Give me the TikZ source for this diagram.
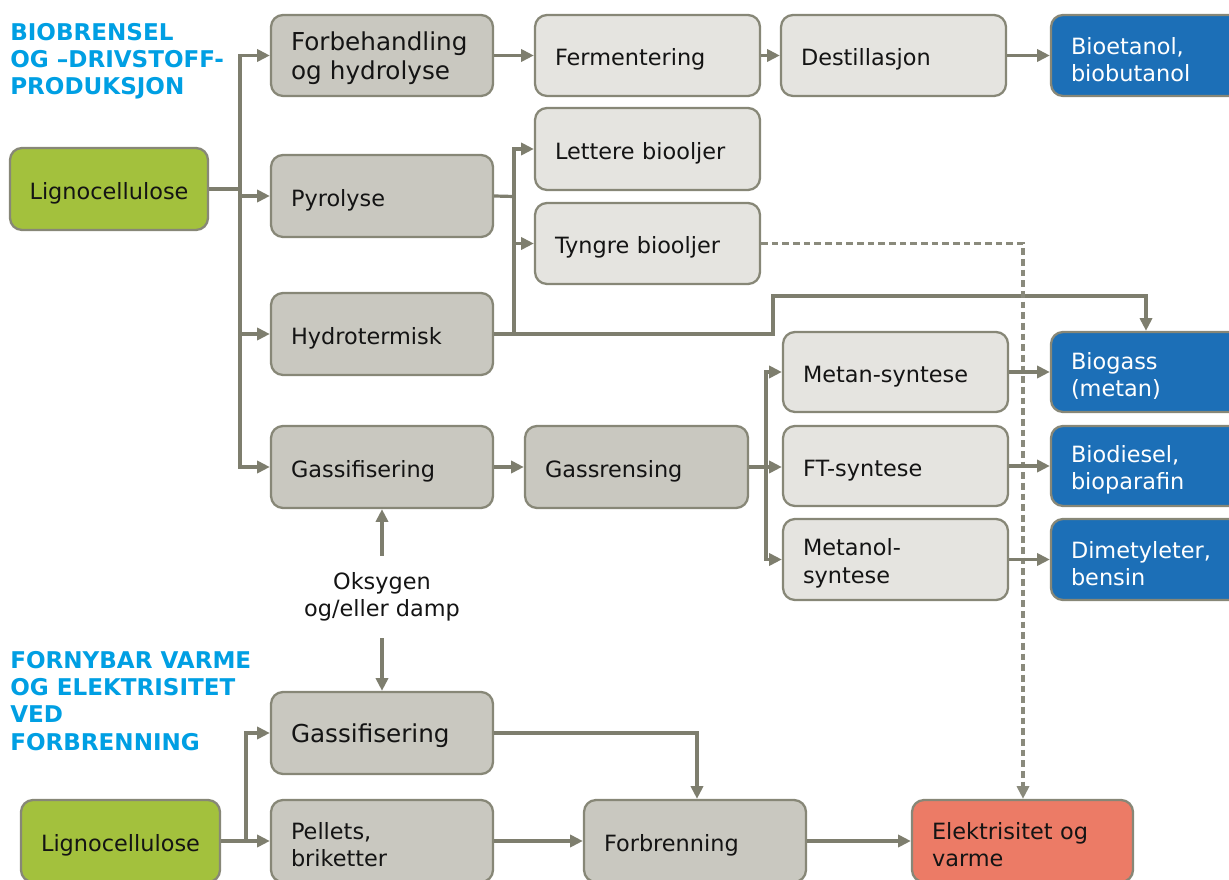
\documentclass[tikz,border=0pt]{standalone}
\usepackage{fontspec}
\setmainfont{DejaVu Sans}
\usetikzlibrary{arrows.meta}

\definecolor{lineC}{HTML}{7E7E6E}
\definecolor{edgeC}{HTML}{878777}
\definecolor{dashC}{HTML}{8A8A7C}
\definecolor{darkG}{HTML}{C9C8C0}
\definecolor{lightG}{HTML}{E5E4E0}
\definecolor{greenF}{HTML}{A3C13D}
\definecolor{blueF}{HTML}{1C6FB7}
\definecolor{redF}{HTML}{EC7B66}
\definecolor{headC}{HTML}{009FE3}
\definecolor{textC}{HTML}{141414}

\newcommand\txtbody{\fontsize{16.8}{20.3}\selectfont}
\newcommand\txtlarge{\fontsize{18.5}{21.8}\selectfont}
\newcommand\txthead{\fontsize{17.3}{20.3}\selectfont\bfseries}
\def\u{0.75pt}

\tikzset{
  box/.style={draw=edgeC, line width=1.7pt, rounded corners=9pt, inner sep=0pt,
              font=\txtbody, text=textC,
              execute at begin node={\rule{0pt}{18.5pt}}},
  lbox/.style 2 args={box, minimum width={#1*\u}, minimum height={#2*\u},
              text width={(#1-40)*\u}, align=left},
  cbox/.style 2 args={box, minimum width={#1*\u}, minimum height={#2*\u}, align=center},
  dark/.style={fill=darkG},
  light/.style={fill=lightG},
  green/.style={fill=greenF},
  blue/.style={fill=blueF, text=white},
  red/.style={fill=redF},
  head/.style={font=\txthead, text=headC, align=left, inner sep=0pt},
  conn/.style={draw=lineC, line width=2.4pt},
  arr/.style={conn, -{Triangle[length=9.5pt,width=9pt]}},
  darr/.style={draw=dashC, line width=2.4pt, dash pattern=on 5pt off 3pt,
               -{Triangle[length=9.5pt,width=9pt]}},
}

\begin{document}
\begin{tikzpicture}[x=0.75pt,y=-0.75pt]
\useasboundingbox (0,0) rectangle (1229,880);

% section headings (anchored at the baseline of their last line)
\node[head, anchor=base west] (h1) at (10,94.3) {BIOBRENSEL\\OG –DRIVSTOFF-\\PRODUKSJON};
\node[head, anchor=base west] (h2) at (10,750) {FORNYBAR VARME\\OG ELEKTRISITET\\VED\\FORBRENNING};

% fuel production chain
\node[cbox={198}{82}, green] (ligA) at (109,189) {Lignocellulose};
\node[lbox={222}{81}, dark, font=\txtlarge] (forb) at (382,55.5) {Forbehandling\\og hydrolyse};
\node[lbox={225}{81}, light] (ferm) at (647.5,55.5) {Fermentering};
\node[lbox={225}{81}, light] (dest) at (893.5,55.5) {Destillasjon};
\node[lbox={222}{81}, blue] (bioet) at (1162,55.5) {Bioetanol,\\biobutanol};

\node[lbox={222}{82}, dark] (pyro) at (382,196) {Pyrolyse};
\node[lbox={225}{82}, light] (lett) at (647.5,149) {Lettere biooljer};
\node[lbox={225}{81}, light] (tyng) at (647.5,243.5) {Tyngre biooljer};
\node[lbox={222}{82}, dark] (hydro) at (382,334) {Hydrotermisk};

\node[lbox={225}{80}, light] (metan) at (895.5,372) {Metan-syntese};
\node[lbox={222}{80}, blue] (biogass) at (1162,372) {Biogass\\(metan)};
\node[lbox={222}{82}, dark] (gassA) at (382,467) {Gassifisering};
\node[lbox={223}{82}, dark] (rens) at (636.5,467) {Gassrensing};
\node[lbox={225}{80}, light] (ft) at (895.5,466) {FT-syntese};
\node[lbox={222}{80}, blue] (biod) at (1162,466) {Biodiesel,\\bioparafin};
\node[lbox={225}{81}, light] (metanol) at (895.5,559.5) {Metanol-\\syntese};
\node[lbox={222}{81}, blue] (dme) at (1162,559.5) {Dimetyleter,\\bensin};

\node[font=\txtbody, text=textC, align=center, inner sep=0pt, minimum height=82*\u] (oks) at (382,597) {Oksygen\\og/eller damp};

% heat and power chain
\node[lbox={222}{82}, dark, font=\txtlarge] (gassB) at (382,733) {Gassifisering};
\node[cbox={199}{82}, green] (ligB) at (120.5,841) {Lignocellulose};
\node[lbox={222}{82}, dark] (pellets) at (382,841) {Pellets,\\briketter};
\node[lbox={222}{82}, dark] (forbr) at (695,841) {Forbrenning};
\node[lbox={221}{82}, red] (el) at (1022.5,841) {Elektrisitet og\\varme};

% branch points
\coordinate (sA) at (240,189);
\coordinate (sP) at (514,196.5);
\coordinate (hA) at (773,334);
\coordinate (hB) at (773,296);
\coordinate (hC) at (1146,296);
\coordinate (dA) at (1023,243.5);
\coordinate (sR) at (766,467);
\coordinate (sB) at (246,841);
\coordinate (gf) at (697,733);

% connectors, fuel production
\draw[conn] (ligA.east) -- (sA);
\draw[arr] (sA) |- (forb.west);
\draw[arr] (sA) |- (pyro.west);
\draw[arr] (sA) |- (hydro.west);
\draw[arr] (sA) |- (gassA.west);
\draw[arr] (forb) -- (ferm);
\draw[arr] (ferm) -- (dest);
\draw[arr] (dest) -- (bioet);

\draw[conn] (pyro.east) -- (sP);
\draw[arr] (sP) |- (lett.west);
\draw[arr] (sP) |- (tyng.west);
\draw[conn] (sP) -- (sP |- hydro.east);
\draw[arr] (hydro.east) -- (hA) -- (hB) -- (hC) -- (hC |- biogass.north);

\draw[darr] (tyng.east) -- (dA) -- (dA |- el.north);

\draw[arr] (gassA) -- (rens);
\draw[conn] (rens.east) -- (sR);
\draw[arr] (sR) |- (metan.west);
\draw[arr] (sR) -- (ft.west |- sR);
\draw[arr] (sR) |- (metanol.west);
\draw[arr] (metan) -- (biogass);
\draw[arr] (ft) -- (biod);
\draw[arr] (metanol) -- (dme);

\draw[arr] (oks.north) -- (gassA.south);
\draw[arr] (oks.south) -- (gassB.north);

% connectors, heat and power
\draw[conn] (ligB.east) -- (sB);
\draw[arr] (sB) |- (gassB.west);
\draw[arr] (sB) -- (pellets.west);
\draw[arr] (gassB.east) -- (gf) -- (gf |- forbr.north);
\draw[arr] (pellets) -- (forbr);
\draw[arr] (forbr) -- (el);
\end{tikzpicture}
\end{document}
